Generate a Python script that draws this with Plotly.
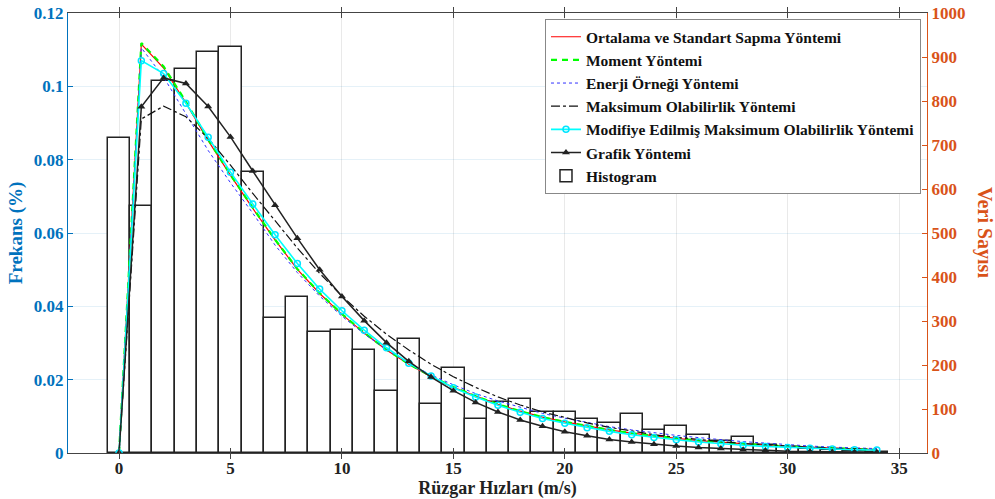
import plotly.graph_objects as go

speeds = list(range(0, 35))

hist_freq = [0.0858, 0.0675, 0.1015, 0.1048, 0.1094, 0.1107, 0.0766, 0.0367, 0.0425, 0.0331,
             0.0335, 0.0281, 0.0169, 0.0310, 0.0133, 0.0231, 0.0093, 0.0138, 0.0146, 0.0111,
             0.0113, 0.0093, 0.0082, 0.0106, 0.0062, 0.0075, 0.0050, 0.0034, 0.0045, 0.0022,
             0.0017, 0.0011, 0.0008, 0.0005, 0.0003]

ortalama = [0, 0.1115, 0.1050, 0.0955, 0.0852, 0.0757, 0.0667, 0.0581, 0.0501, 0.0435,
            0.0378, 0.0327, 0.0281, 0.0242, 0.0208, 0.0179, 0.0155, 0.0133, 0.0114, 0.0098,
            0.0085, 0.0073, 0.0063, 0.0054, 0.0046, 0.0040, 0.0034, 0.0029, 0.0025, 0.0021,
            0.0018, 0.0015, 0.0013, 0.0011, 0.0009]

moment = [0, 0.1118, 0.1054, 0.0958, 0.0855, 0.0759, 0.0669, 0.0582, 0.0502, 0.0436,
          0.0379, 0.0328, 0.0282, 0.0243, 0.0209, 0.0180, 0.0155, 0.0133, 0.0114, 0.0098,
          0.0085, 0.0073, 0.0063, 0.0054, 0.0046, 0.0040, 0.0034, 0.0029, 0.0025, 0.0021,
          0.0018, 0.0015, 0.0013, 0.0011, 0.0009]

enerji = [0, 0.1105, 0.1025, 0.0925, 0.0825, 0.0737, 0.0654, 0.0567, 0.0492, 0.0428,
          0.0373, 0.0325, 0.0282, 0.0245, 0.0213, 0.0186, 0.0162, 0.0142, 0.0124, 0.0108,
          0.0095, 0.0083, 0.0072, 0.0063, 0.0055, 0.0048, 0.0042, 0.0036, 0.0031, 0.0027,
          0.0022, 0.0019, 0.0016, 0.0014, 0.0012]

maksimum = [0, 0.0911, 0.0946, 0.0917, 0.0858, 0.0785, 0.0708, 0.0632, 0.0559, 0.0490,
            0.0428, 0.0373, 0.0324, 0.0281, 0.0242, 0.0208, 0.0179, 0.0153, 0.0131, 0.0112,
            0.0096, 0.0082, 0.0070, 0.0059, 0.0050, 0.0043, 0.0036, 0.0031, 0.0026, 0.0022,
            0.0019, 0.0016, 0.0013, 0.0011, 0.0009]

modifiye = [0, 0.1070, 0.1035, 0.0954, 0.0861, 0.0766, 0.0679, 0.0595, 0.0517, 0.0447,
            0.0388, 0.0335, 0.0287, 0.0245, 0.0210, 0.0178, 0.0153, 0.0130, 0.0111, 0.0094,
            0.0081, 0.0069, 0.0059, 0.0050, 0.0042, 0.0036, 0.0030, 0.0025, 0.0021, 0.0018,
            0.0015, 0.0013, 0.0011, 0.0009, 0.0008]

grafik = [0, 0.0944, 0.1023, 0.1008, 0.0945, 0.0862, 0.0769, 0.0676, 0.0586, 0.0500,
          0.0427, 0.0361, 0.0301, 0.0250, 0.0207, 0.0170, 0.0138, 0.0112, 0.0090, 0.0073,
          0.0058, 0.0047, 0.0037, 0.0030, 0.0024, 0.0019, 0.0015, 0.0012, 0.0009, 0.0007,
          0.0005, 0.0004, 0.0003, 0.0002, 0.0002]

names = ["Ortalama ve Standart Sapma Yöntemi", "Moment Yöntemi", "Enerji Örneği Yöntemi",
         "Maksimum Olabilirlik Yöntemi", "Modifiye Edilmiş Maksimum Olabilirlik Yöntemi",
         "Grafik Yöntemi", "Histogram"]

FONT = "Liberation Serif"
BLUE = "#0072BD"
ORANGE = "#D95319"

fig = go.Figure()

fig.add_trace(go.Bar(x=speeds, y=hist_freq, width=1.0, name=names[6], legendrank=7,
                     marker=dict(color="white", line=dict(color="#222222", width=1.5))))

fig.add_trace(go.Scatter(x=speeds, y=ortalama, mode="lines", name=names[0], legendrank=1,
                         line=dict(color="#FF0000", width=1.2)))
fig.add_trace(go.Scatter(x=speeds, y=moment, mode="lines", name=names[1], legendrank=2,
                         line=dict(color="#00FF00", width=2.2, dash="6px,5px")))
fig.add_trace(go.Scatter(x=speeds, y=enerji, mode="lines", name=names[2], legendrank=3,
                         line=dict(color="#3030FF", width=1, dash="dot")))
fig.add_trace(go.Scatter(x=speeds, y=maksimum, mode="lines", name=names[3], legendrank=4,
                         line=dict(color="#111111", width=1.2, dash="dashdot")))
fig.add_trace(go.Scatter(x=speeds, y=modifiye, mode="lines+markers", name=names[4], legendrank=5,
                         line=dict(color="#00FFFF", width=1.6),
                         marker=dict(symbol="circle-open", size=6, color="#00E5FF", line=dict(width=1.5))))
fig.add_trace(go.Scatter(x=speeds, y=grafik, mode="lines+markers", name=names[5], legendrank=6,
                         line=dict(color="#222222", width=1.5),
                         marker=dict(symbol="triangle-up", size=7, color="#222222")))

# right axis anchor trace (no visible marks)
fig.add_trace(go.Scatter(x=[None], y=[None], yaxis="y2", showlegend=False, hoverinfo="skip"))

fig.update_layout(
    width=995, height=499,
    margin=dict(l=68, r=68, t=13, b=46, autoexpand=False),
    plot_bgcolor="white", paper_bgcolor="white",
    font=dict(family=FONT, size=16, color="#222222"),
    bargap=0,
    showlegend=True,
    legend=dict(x=0.993, y=0.986, xanchor="right", yanchor="top",
                bgcolor="white", bordercolor="#888888", borderwidth=1,
                font=dict(family=FONT, size=15.5, color="#111111", weight="bold"),
                tracegroupgap=0, itemwidth=30),
    xaxis=dict(range=[-2.29, 36.25], tickvals=[0, 5, 10, 15, 20, 25, 30, 35],
               ticks="inside", ticklen=5, tickcolor="#444444", mirror="allticks",
               showline=True, linecolor="#444444", linewidth=1, automargin=False,
               ticklabeloverflow="allow",
               showgrid=True, gridcolor="rgba(40,40,40,0.10)", zeroline=False,
               tickfont=dict(family=FONT, size=17, color="#222222", weight="bold"),
               title=dict(text="Rüzgar Hızları (m/s)", standoff=2,
                          font=dict(family=FONT, size=18, color="#222222", weight="bold"))),
    yaxis=dict(range=[0, 0.12], dtick=0.02, ticks="inside", ticklen=5, tickcolor=BLUE,
               showline=True, linecolor=BLUE, linewidth=1, automargin=False,
               ticklabeloverflow="allow",
               showgrid=True, gridcolor="rgba(0,114,189,0.10)", zeroline=False,
               tickfont=dict(family=FONT, size=17, color=BLUE, weight="bold"),
               title=dict(text="Frekans (%)", standoff=6,
                          font=dict(family=FONT, size=19, color=BLUE, weight="bold"))),
    yaxis2=dict(range=[0, 1000], dtick=100, overlaying="y", side="right",
                ticks="inside", ticklen=5, tickcolor=ORANGE, automargin=False,
                ticklabeloverflow="allow",
                showline=True, linecolor=ORANGE, linewidth=1,
                showgrid=False, zeroline=False,
                tickfont=dict(family=FONT, size=17, color=ORANGE, weight="bold")),
    annotations=[dict(text="Veri Sayısı", xref="paper", yref="paper", x=1.0675, y=0.5,
                      textangle=90, showarrow=False, xanchor="center", yanchor="middle",
                      font=dict(family=FONT, size=20, color=ORANGE, weight="bold"))],
)

fig.write_html("out.html", config={"displayModeBar": False},
               post_script="document.body.style.margin='0';document.body.style.overflow='hidden';")
